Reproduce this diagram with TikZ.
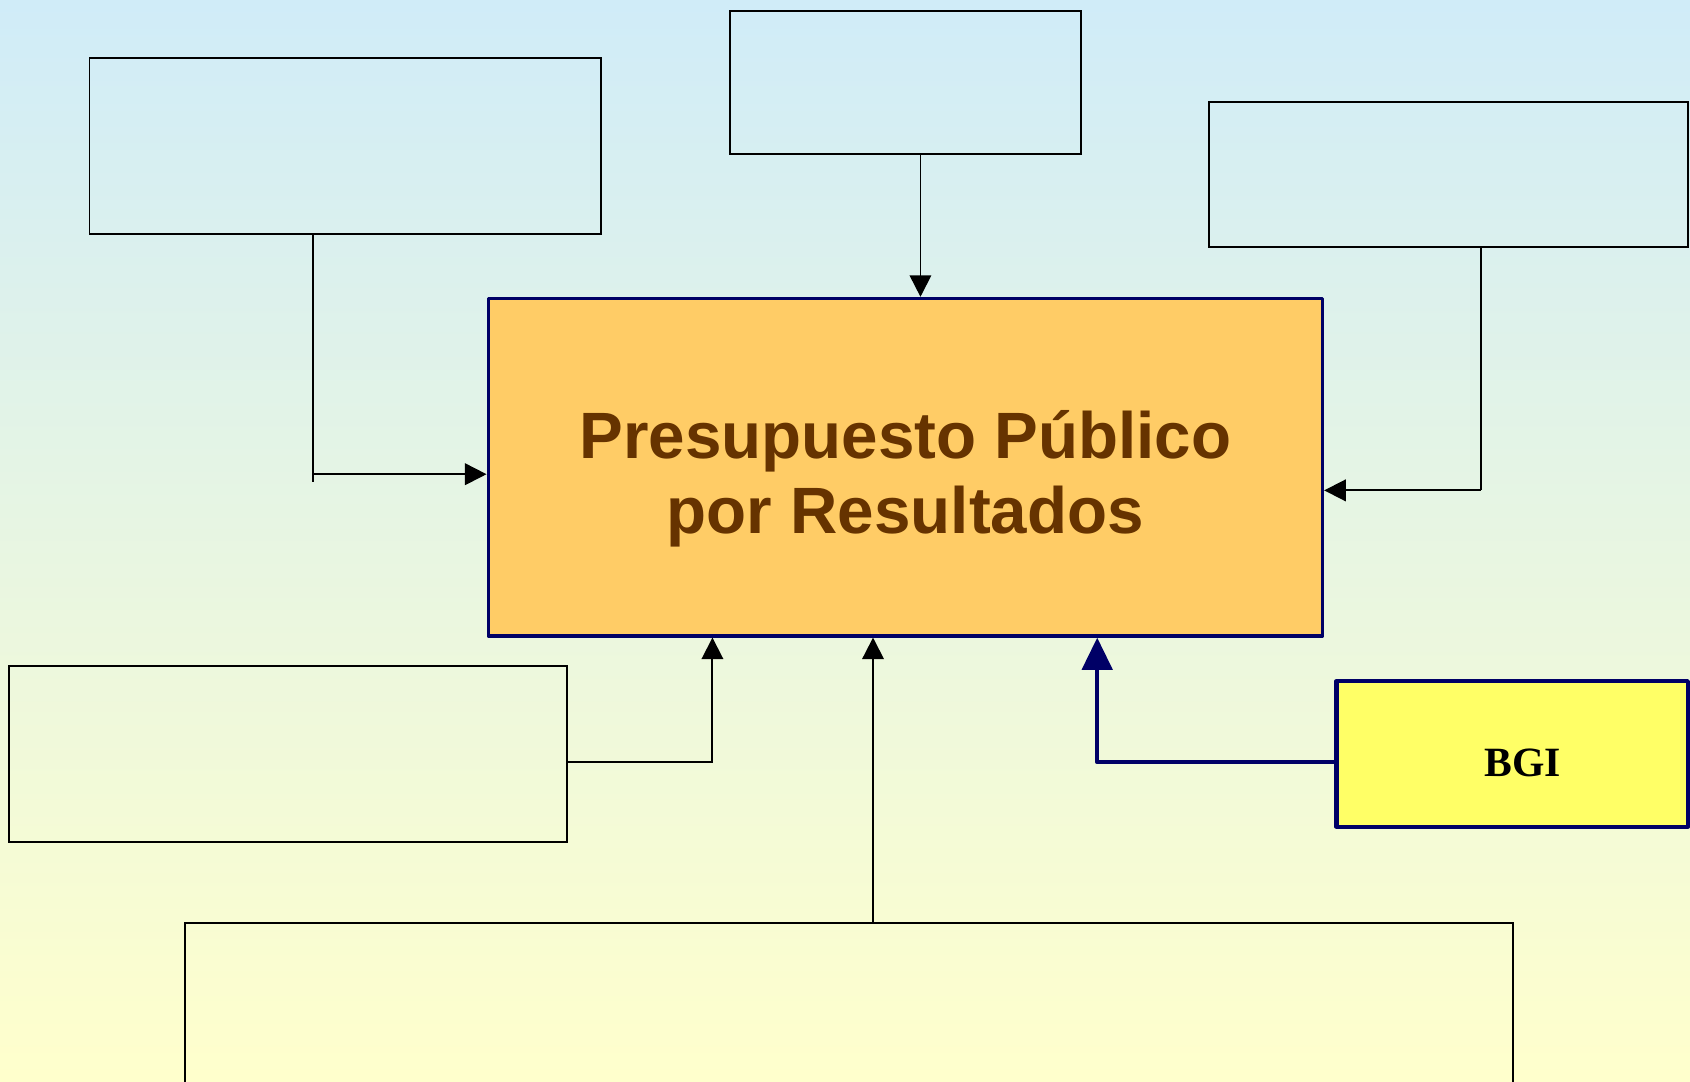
\documentclass[tikz,border=0pt]{standalone}
\usepackage{fontspec}
\setmainfont{Liberation Serif}
\setsansfont{Liberation Sans}
\usetikzlibrary{arrows.meta}

\definecolor{bgtop}{HTML}{D0ECF8}
\definecolor{bgbot}{HTML}{FFFFCC}
\definecolor{navy}{HTML}{000066}
\definecolor{ppfill}{HTML}{FFCC66}
\definecolor{pptext}{HTML}{663300}
\definecolor{bgifill}{HTML}{FFFF66}

\begin{document}
\begin{tikzpicture}[>={Triangle[length=0.2cm,width=0.2cm]},
  box/.style={draw,rectangle,inner sep=0pt,line width=0.5pt},
  link/.style={draw,line width=0.5pt}]
  \useasboundingbox (0,0) rectangle (15.68,10.03);
  \shade[top color=bgtop,bottom color=bgbot] (0,0) rectangle (15.68,10.03);

  \node (ta) at (3.205,8.675) [box, minimum width=4.75cm, minimum height=1.63cm] {};
  \node (tb) at (8.40,9.265) [box, minimum width=3.26cm, minimum height=1.33cm] {};
  \node (tc) at (13.44,8.41) [box, minimum width=4.44cm, minimum height=1.34cm] {};
  \node (bl) at (2.67,3.035) [box, minimum width=5.18cm, minimum height=1.63cm] {};
  \node (bt) at (7.88,0.65) [box, minimum width=12.32cm, minimum height=1.64cm] {};

  \node (ppr) at (8.40,5.695) [draw=navy, fill=ppfill, line width=0.9pt, line join=round,
    minimum width=7.74cm, minimum height=3.13cm, align=center, text=pptext,
    font=\sffamily\bfseries\fontsize{17.3}{20}\selectfont]
    {\rule{0pt}{0.66cm}Presupuesto Público\\por Resultados};
  \node (bgi) at (14.03,3.035) [draw=navy, fill=bgifill, line width=1.1pt, line join=round,
    minimum width=3.26cm, minimum height=1.35cm,
    font=\rmfamily\bfseries\fontsize{11}{13}\selectfont] {\hspace*{0.2cm}\rule{0pt}{0.43cm}BGI};

  \coordinate (ja) at (2.90,5.63); % bend
  \coordinate (ja0) at (2.90,5.56); % line end
  \coordinate (jb) at (8.54,8.0);
  \coordinate (jc) at (13.74,5.48); % bend
  \coordinate (jd) at (6.61,2.96); % bend
  \coordinate (je) at (8.10,1.47);
  \coordinate (jg) at (10.18,2.96); % bend

  \draw[link] (ta.south -| ja) -- (ja0);
  \draw[link,->] (ja) -- (ja -| ppr.west);
  \draw[link,->] (tb.south -| jb) -- (ppr.north -| jb);
  \draw[link] (tc.south -| jc) -- (jc);
  \draw[link,->] (jc) -- (jc -| ppr.east);
  \draw[link,->] (jd -| bl.east) -- (jd) -- (jd |- ppr.south);
  \draw[link,->] (bt.north -| je) -- (je |- ppr.south);
  \draw[navy, line width=1.2pt, line join=round, -{Triangle[length=0.3cm,width=0.28cm]}]
    (jg -| bgi.west) -- (jg) -- (jg |- ppr.south);
\end{tikzpicture}
\end{document}
